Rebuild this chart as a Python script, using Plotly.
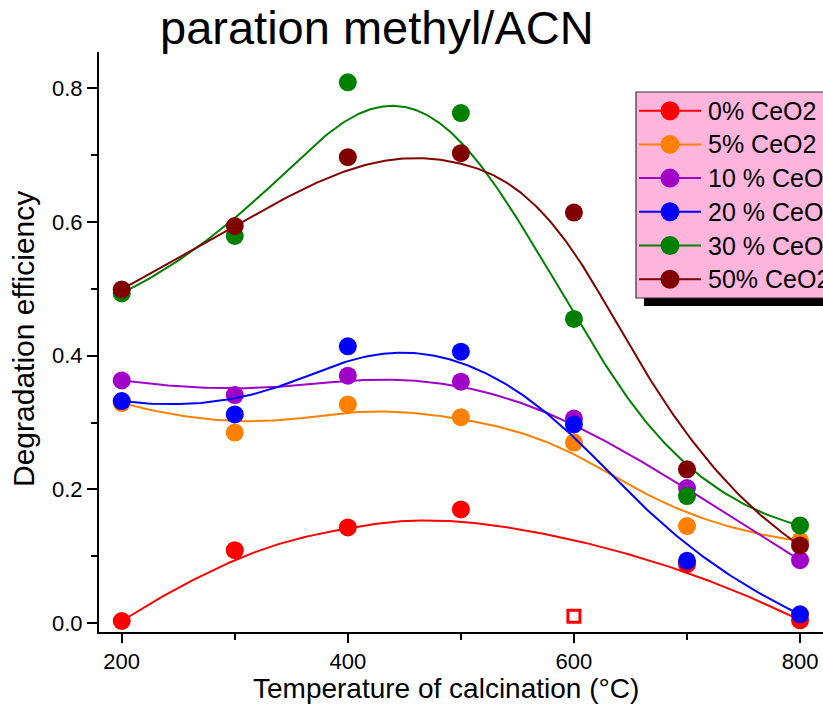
import numpy as np
import plotly.graph_objects as go

# ---------------- data ----------------
temps = [200, 300, 400, 500, 600, 700, 800]
names = ["0% CeO2", "5% CeO2", "10 % CeO2", "20 % CeO2", "30 % CeO2", "50% CeO2"]
colors = ["#FF0000", "#FF8000", "#A000C8", "#0000FF", "#008000", "#800000"]

eff_0 = [0.003, 0.109, 0.143, 0.170, None, 0.088, 0.004]   # 600 °C point masked
eff_5 = [0.329, 0.285, 0.327, 0.308, 0.270, 0.145, 0.123]
eff_10 = [0.363, 0.341, 0.370, 0.361, 0.306, 0.202, 0.094]
eff_20 = [0.332, 0.312, 0.414, 0.406, 0.297, 0.093, 0.013]
eff_30 = [0.493, 0.579, 0.809, 0.763, 0.455, 0.190, 0.146]
eff_50 = [0.499, 0.594, 0.697, 0.703, 0.614, 0.230, 0.116]
series = [eff_0, eff_5, eff_10, eff_20, eff_30, eff_50]

masked_temp = [600]
masked_eff = [0.010]

x_ticks = [200, 400, 600, 800]
x_minor = [300, 500, 700]
y_ticks = [0.0, 0.2, 0.4, 0.6, 0.8]
y_minor = [0.1, 0.3, 0.5, 0.7]

title_text = "paration methyl/ACN"
x_title = "Temperature of calcination (°C)"
y_title = "Degradation efficiency"

# ---------------- layout geometry (pixels) ----------------
W, H = 823, 728
L, R, T, B = 99, 0, 52, 96
PW, PH = W - L - R, H - T - B
FONT = "Liberation Sans, Arial, sans-serif"


def px(xp):
    return (xp - L) / PW


def py(yp):
    return (H - B - yp) / PH


# ---------------- B-spline (Origin-style "B-Spline" connect) ----------------
def de_boor(t, knots, P, k):
    if t >= knots[-1]:
        return P[-1]
    s = int(np.searchsorted(knots, t, side="right") - 1)
    d = [P[j + s - k].copy() for j in range(k + 1)]
    for r in range(1, k + 1):
        for j in range(k, r - 1, -1):
            a = (t - knots[j + s - k]) / (knots[j + 1 + s - r] - knots[j + s - k])
            d[j] = (1 - a) * d[j - 1] + a * d[j]
    return d[k]


def bspline(xs, ys, n=300, k=3):
    P = np.column_stack([xs, ys]).astype(float)
    m = len(P)
    knots = np.concatenate([[0] * (k + 1), np.arange(1, m - k), [m - k] * (k + 1)]).astype(float)
    ts = np.linspace(0, m - k, n)
    pts = np.array([de_boor(t, knots, P, k) for t in ts])
    return pts[:, 0], pts[:, 1]


fig = go.Figure()

for name, col, vals in zip(names, colors, series):
    xs = [t for t, v in zip(temps, vals) if v is not None]
    ys = [v for v in vals if v is not None]
    cx, cy = bspline(xs, ys)
    fig.add_trace(go.Scatter(x=cx, y=cy, mode="lines", line=dict(color=col, width=2),
                             showlegend=False, hoverinfo="skip", cliponaxis=False))
    fig.add_trace(go.Scatter(x=xs, y=ys, mode="markers", name=name,
                             marker=dict(color=col, size=18, line=dict(width=0)),
                             showlegend=False, cliponaxis=False))

fig.add_trace(go.Scatter(x=masked_temp, y=masked_eff, mode="markers", showlegend=False,
                         marker=dict(symbol="square-open", size=12, color=colors[0],
                                     line=dict(width=3, color=colors[0])),
                         cliponaxis=False))

# ---------------- manual legend (Origin style, cut off at right edge) ----------------
shapes = []
annotations = []
leg_x0, leg_y0, leg_y1 = 636, 92, 298
shapes.append(dict(type="rect", xref="paper", yref="paper", x0=px(leg_x0 + 8), x1=px(W + 60),
                   y0=py(leg_y1 + 8), y1=py(leg_y0 + 8), fillcolor="black",
                   line=dict(width=0), layer="above"))
shapes.append(dict(type="rect", xref="paper", yref="paper", x0=px(leg_x0), x1=px(W + 50),
                   y0=py(leg_y1), y1=py(leg_y0), fillcolor="#FFB4DC",
                   line=dict(width=1.2, color="#333333"), layer="above"))
row0, dy = 110.7, 33.7
for i, (name, col) in enumerate(zip(names, colors)):
    yc = row0 + dy * i
    shapes.append(dict(type="line", xref="paper", yref="paper", x0=px(639), x1=px(701),
                       y0=py(yc), y1=py(yc), line=dict(color=col, width=2), layer="above"))
    shapes.append(dict(type="circle", xref="paper", yref="paper", x0=px(670 - 9.5), x1=px(670 + 9.5),
                       y0=py(yc + 9.5), y1=py(yc - 9.5), fillcolor=col, line=dict(width=0),
                       layer="above"))
    annotations.append(dict(text=name, xref="paper", yref="paper", x=px(706), y=py(yc),
                            xanchor="left", yanchor="middle", showarrow=False,
                            font=dict(family=FONT, size=25, color="black")))

# titles
annotations.append(dict(text=title_text, xref="paper", yref="paper", x=px(158), y=py(28),
                        xanchor="left", yanchor="middle", showarrow=False,
                        font=dict(family=FONT, size=47, color="black")))
annotations.append(dict(text=x_title, xref="paper", yref="paper", x=px(446), y=py(688),
                        xanchor="center", yanchor="middle", showarrow=False,
                        font=dict(family=FONT, size=28, color="black")))
annotations.append(dict(text=y_title, xref="paper", yref="paper", x=px(23), y=py(339),
                        xanchor="center", yanchor="middle", showarrow=False, textangle=-90,
                        font=dict(family=FONT, size=30, color="black")))

fig.update_layout(
    width=W, height=H,
    margin=dict(l=L, r=R, t=T, b=B, autoexpand=False),
    paper_bgcolor="white", plot_bgcolor="white",
    showlegend=False,
    font=dict(family=FONT, size=22, color="black"),
    shapes=shapes, annotations=annotations,
    xaxis=dict(range=[179.9, 820.3], tickvals=x_ticks, ticktext=[str(v) for v in x_ticks],
               ticks="outside", ticklen=9, tickwidth=2, tickcolor="black",
               showline=True, linewidth=2, linecolor="black", showgrid=False, zeroline=False,
               tickfont=dict(family=FONT, size=22, color="black"),
               minor=dict(tickvals=x_minor, ticks="outside", ticklen=6, tickwidth=2,
                          tickcolor="black", showgrid=False)),
    yaxis=dict(range=[-0.01344, 0.8543], tickvals=y_ticks, ticktext=[f"{v:.1f}" for v in y_ticks],
               ticks="outside", ticklen=10, tickwidth=2, tickcolor="black",
               showline=True, linewidth=2, linecolor="black", showgrid=False, zeroline=False,
               tickfont=dict(family=FONT, size=22, color="black"),
               minor=dict(tickvals=y_minor, ticks="outside", ticklen=6, tickwidth=2,
                          tickcolor="black", showgrid=False)),
)

fig.write_html("out.html")
